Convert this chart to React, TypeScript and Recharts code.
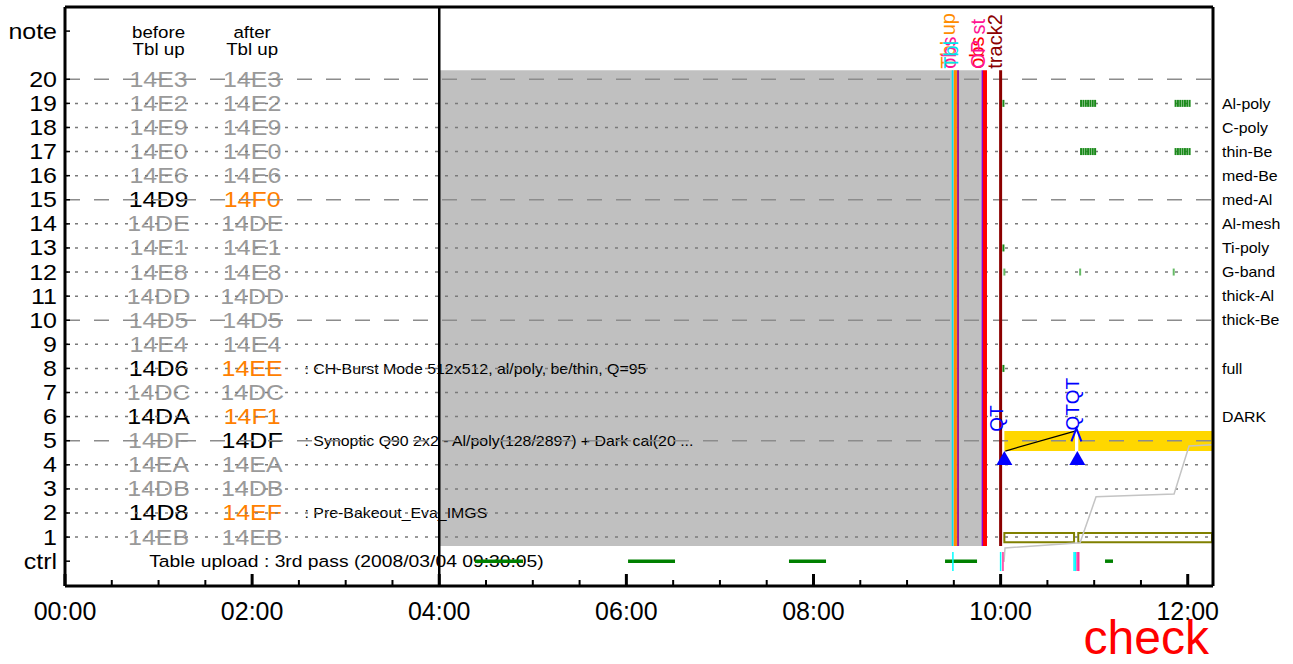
import React from 'react';
import { ComposedChart, XAxis, YAxis, ReferenceLine, ReferenceArea, Scatter, Line } from 'recharts';

const FONT = '"Liberation Sans", Arial, Helvetica, sans-serif';
const STRETCH = 1.135;

// ---------------- axes ----------------
const timeDomain = [0, 12.27];
const timeTicks = [0, 0.5, 1, 1.5, 2, 2.5, 3, 3.5, 4, 4.5, 5, 5.5, 6, 6.5, 7, 7.5, 8, 8.5, 9, 9.5, 10, 10.5, 11, 11.5, 12];
const timeMajorTicks = [0, 2, 4, 6, 8, 10, 12];
const timeTickLabels = ['00:00', '02:00', '04:00', '06:00', '08:00', '10:00', '12:00'];

const rowDomain = [-1.03, 23];
const rowTicks = [0, 1, 2, 3, 4, 5, 6, 7, 8, 9, 10, 11, 12, 13, 14, 15, 16, 17, 18, 19, 20, 22];
const rowTickLabels = ['ctrl', '1', '2', '3', '4', '5', '6', '7', '8', '9', '10', '11', '12', '13', '14', '15', '16', '17', '18', '19', '20', 'note'];

const filterRows = [19, 18, 17, 16, 15, 14, 13, 12, 11, 10, 8, 6];
const filterNames = ['Al-poly', 'C-poly', 'thin-Be', 'med-Be', 'med-Al', 'Al-mesh', 'Ti-poly', 'G-band', 'thick-Al', 'thick-Be', 'full', 'DARK'];

// ---------------- table of programs ----------------
const tableRows = [20, 19, 18, 17, 16, 15, 14, 13, 12, 11, 10, 9, 8, 7, 6, 5, 4, 3, 2, 1];
const beforeIds = ['14E3', '14E2', '14E9', '14E0', '14E6', '14D9', '14DE', '14E1', '14E8', '14DD', '14D5', '14E4', '14D6', '14DC', '14DA', '14DF', '14EA', '14DB', '14D8', '14EB'];
const afterIds = ['14E3', '14E2', '14E9', '14E0', '14E6', '14F0', '14DE', '14E1', '14E8', '14DD', '14D5', '14E4', '14EE', '14DC', '14F1', '14DF', '14EA', '14DB', '14EF', '14EB'];
const beforeStatus = ['old', 'old', 'old', 'old', 'old', 'cur', 'old', 'old', 'old', 'old', 'old', 'old', 'cur', 'old', 'cur', 'old', 'old', 'old', 'cur', 'old'];
const afterStatus = ['old', 'old', 'old', 'old', 'old', 'new', 'old', 'old', 'old', 'old', 'old', 'old', 'new', 'old', 'new', 'cur', 'old', 'old', 'new', 'old'];
const beforeColumnTime = 1.0;
const afterColumnTime = 2.0;

const headerTimes = [1.0, 1.0, 2.0, 2.0];
const headerRows = [21.96, 21.22, 21.96, 21.22];
const headerTexts = ['before', 'Tbl up', 'after', 'Tbl up'];

const noteRows = [8, 5, 2];
const noteTexts = [
  ': CH-Burst Mode 512x512, al/poly, be/thin, Q=95',
  ': Synoptic Q90 2x2 - Al/poly(128/2897) + Dark cal(20 ...',
  ': Pre-Bakeout_Eva_IMGS',
];
const noteTime = 2.56;

const ctrlTitle = 'Table upload : 3rd pass (2008/03/04 09:30:05)';
const ctrlTitleTime = 0.9;

// ---------------- timeline ----------------
const gridRows = [1, 2, 3, 4, 5, 6, 7, 8, 9, 10, 11, 12, 13, 14, 15, 16, 17, 18, 19, 20];
const majorGridRows = [5, 10, 15, 20];

const uploadTime = 4.0;
const observationStart = [4.0];
const observationEnd = [9.8];
const observationRowLow = 0.63;
const observationRowHigh = 20.37;

const eventTimes = [9.486, 9.517, 9.545, 9.805, 9.833, 10.0];
const eventKinds = ['tbl', 'tblup', 'obs', 'op', 'obsred', 'track2'];

const topLabelTimes = [9.51, 9.52, 9.54, 9.82, 9.835, 10.02];
const topLabelTexts = ['Tbl up', 'obs', 'Tbl', 'obs', 'OP st', 'track2'];
const topLabelKinds = ['tblup', 'obs', 'tbl', 'obsred', 'opst', 'track2'];

const ctrlSegStart = [4.382, 6.018, 7.738, 9.406, 11.116];
const ctrlSegEnd = [4.895, 6.52, 8.134, 9.748, 11.201];

const ctrlTickTimes = [9.49, 10.0, 10.025, 10.785, 10.8, 10.818, 10.835];
const ctrlTickKinds = ['cyan', 'cyan', 'pink', 'cyan', 'cyan', 'pink', 'pink'];

const exposureTimes = [
  10.03, 10.86, 10.885, 10.91, 10.935, 10.96, 10.985, 11.01, 11.87, 11.895, 11.92, 11.945, 11.97, 11.995, 12.02,
  10.86, 10.885, 10.91, 10.935, 10.96, 10.985, 11.01, 11.87, 11.895, 11.92, 11.945, 11.97, 11.995, 12.02,
  10.03, 10.04, 10.85, 11.85, 10.03,
];
const exposureRows = [
  19, 19, 19, 19, 19, 19, 19, 19, 19, 19, 19, 19, 19, 19, 19,
  17, 17, 17, 17, 17, 17, 17, 17, 17, 17, 17, 17, 17, 17,
  13, 12, 12, 12, 8,
];
const exposureKinds = [
  'dark', 'dark', 'dark', 'dark', 'dark', 'dark', 'dark', 'dark', 'dark', 'dark', 'dark', 'dark', 'dark', 'dark', 'dark',
  'dark', 'dark', 'dark', 'dark', 'dark', 'dark', 'dark', 'dark', 'dark', 'dark', 'dark', 'dark', 'dark', 'dark',
  'dark', 'light', 'light', 'light', 'dark',
];

const bandStart = [10.04, 10.83];
const bandEnd = [10.795, 12.27];
const bandRowLow = 4.57;
const bandRowHigh = 5.4;

const boxStart = [10.04, 10.83];
const boxEnd = [10.785, 12.26];
const boxRowLow = 0.79;
const boxRowHigh = 1.17;

const qtTriTimes = [10.04, 10.82];
const qtTriRows = [4.28, 4.28];
const qtOpenTimes = [10.81];
const qtOpenRows = [5.22];
const qtLabelTimes = [10.026, 10.838];
const qtLabelRows = [5.37, 5.42];
const qtLabelTexts = ['QT', 'QTQT'];

const connectorTimes = [10.05, 10.795];
const connectorRows = [4.57, 5.4];

const cumulativeTimes = [10.036, 10.047, 10.849, 11.02, 11.854, 12.014, 12.27];
const cumulativeRows = [-0.03, 0.55, 0.76, 2.67, 2.79, 4.78, 4.83];

// ---------------- derived data tables ----------------
const tableBefore = tableRows.map((r, i) => ({ t: beforeColumnTime, row: r, text: beforeIds[i], status: beforeStatus[i] }));
const tableAfter = tableRows.map((r, i) => ({ t: afterColumnTime, row: r, text: afterIds[i], status: afterStatus[i] }));
const headers = headerTexts.map((s, i) => ({ t: headerTimes[i], row: headerRows[i], text: s, status: 'cur' }));
const notes = noteTexts.map((s, i) => ({ t: noteTime, row: noteRows[i], text: s, status: 'cur' }));
const ctrlTitleData = [{ t: ctrlTitleTime, row: 0, text: ctrlTitle, status: 'cur' }];
const topLabels = topLabelTexts.map((s, i) => ({ t: topLabelTimes[i], row: observationRowHigh + 0.07, text: s, kind: topLabelKinds[i] }));
const exposures = exposureTimes.map((t, i) => ({ t, row: exposureRows[i], kind: exposureKinds[i] }));
const qtTriangles = qtTriTimes.map((t, i) => ({ t, row: qtTriRows[i] }));
const qtOpen = qtOpenTimes.map((t, i) => ({ t, row: qtOpenRows[i] }));
const qtLabels = qtLabelTexts.map((s, i) => ({ t: qtLabelTimes[i], row: qtLabelRows[i], text: s, kind: 'qt' }));
const connector = connectorTimes.map((t, i) => ({ t, row: connectorRows[i] }));
const cumulative = cumulativeTimes.map((t, i) => ({ t, row: cumulativeRows[i] }));

// ---------------- styles ----------------
const statusColor: Record<string, string> = { old: '#9a9a9a', cur: '#000000', new: '#ff8000' };
const eventStyle: Record<string, { color: string; width: number }> = {
  tbl: { color: '#00e5ee', width: 1.5 },
  tblup: { color: '#ff8c00', width: 3 },
  obs: { color: '#9b1b9b', width: 2 },
  op: { color: '#9400d3', width: 1.5 },
  obsred: { color: '#ff0000', width: 4 },
  track2: { color: '#8b0000', width: 3 },
};
const labelColor: Record<string, string> = {
  tbl: '#00e5ee', tblup: '#ff8c00', obs: '#ff1493', obsred: '#ff0000', opst: '#ff1493', track2: '#8b0000', qt: '#0000ff',
};
const ctrlTickColor: Record<string, string> = { cyan: '#00ffff', pink: '#ff3399' };
const exposureColor: Record<string, string> = { dark: '#1a8a1a', light: '#66bb66' };

// ---------------- custom renderers ----------------
const StretchText = ({ x, y, size, anchor, fill, children }: any) => (
  <text transform={`translate(${x} ${y}) scale(${STRETCH} 1)`} x={0} y={0} textAnchor={anchor} dominantBaseline="central"
    fontSize={size} fontFamily={FONT} fill={fill}>
    {children}
  </text>
);

const makeText = (fontSize: number, anchor: 'start' | 'middle' | 'end') => (p: any) => {
  const d = p.payload || p;
  return <StretchText x={p.cx} y={p.cy} size={fontSize} anchor={anchor} fill={statusColor[d.status]}>{d.text}</StretchText>;
};

const makeRotated = (fontSize: number) => (p: any) => {
  const d = p.payload || p;
  return (
    <text x={p.cx} y={p.cy} transform={`rotate(-90 ${p.cx} ${p.cy})`} textAnchor="start" fontSize={fontSize} fontFamily={FONT} fill={labelColor[d.kind]}>
      {d.text}
    </text>
  );
};

const ExposureShape = (p: any) => {
  const d = p.payload || p;
  return <line x1={p.cx} x2={p.cx} y1={p.cy - 3.5} y2={p.cy + 3.5} stroke={exposureColor[d.kind]} strokeWidth={2} />;
};

const TriangleShape = (p: any) => (
  <polygon points={`${p.cx},${p.cy - 7} ${p.cx - 8},${p.cy + 7} ${p.cx + 8},${p.cy + 7}`} fill="#0000ff" stroke="none" />
);
const OpenTriangleShape = (p: any) => (
  <polyline points={`${p.cx - 5},${p.cy + 6} ${p.cx},${p.cy - 7} ${p.cx + 5},${p.cy + 6}`} fill="none" stroke="#0000ff" strokeWidth={2} />
);

const BottomTick = (p: any) => {
  const v = p.payload.value;
  const idx = timeMajorTicks.indexOf(v);
  const major = idx >= 0;
  return (
    <g>
      <line x1={p.x} x2={p.x} y1={p.y} y2={p.y - (major ? 12 : 6)} stroke="#000" strokeWidth={major ? 3 : 2} />
      {major && (
        <text x={p.x} y={p.y + 25} textAnchor="middle" dominantBaseline="central" fontSize={25} fontFamily={FONT} fill="#000">
          {timeTickLabels[idx]}
        </text>
      )}
    </g>
  );
};

const TopTick = (p: any) => {
  const v = p.payload.value;
  const major = timeMajorTicks.indexOf(v) >= 0;
  return <line x1={p.x} x2={p.x} y1={p.y} y2={p.y + (major ? 12 : 6)} stroke="#000" strokeWidth={major ? 3 : 2} />;
};

const LeftTick = (p: any) => {
  const v = p.payload.value;
  const idx = rowTicks.indexOf(v);
  return (
    <g>
      <line x1={p.x} x2={p.x + 5} y1={p.y} y2={p.y} stroke="#000" strokeWidth={1.5} />
      <StretchText x={p.x - 8} y={p.y} size={22} anchor="end" fill="#000">{rowTickLabels[idx]}</StretchText>
    </g>
  );
};

const RightTick = (p: any) => {
  const v = p.payload.value;
  const idx = filterRows.indexOf(v);
  return <StretchText x={p.x + 9} y={p.y} size={14} anchor="start" fill="#000">{filterNames[idx]}</StretchText>;
};

export default function App() {
  const axisLine = { stroke: '#000', strokeWidth: 3 };
  return (
    <div style={{ position: 'absolute', left: 0, top: 0, width: 1293, height: 664, background: '#fff' }}>
      <ComposedChart width={1293} height={664} margin={{ top: 6, right: 0, bottom: 0, left: 0 }} style={{ fontFamily: FONT }}>
        <XAxis xAxisId={0} dataKey="t" type="number" domain={timeDomain} allowDataOverflow ticks={timeTicks} interval={0}
          tickLine={false} tickSize={0} tickMargin={0} height={78} axisLine={axisLine} tick={BottomTick} />
        <XAxis xAxisId="top" orientation="top" type="number" domain={timeDomain} allowDataOverflow ticks={timeTicks} interval={0}
          tickLine={false} tickSize={0} tickMargin={0} height={1} axisLine={axisLine} tick={TopTick} />
        <YAxis yAxisId={0} dataKey="row" type="number" domain={rowDomain} allowDataOverflow ticks={rowTicks} interval={0}
          width={65} tickLine={false} tickSize={0} tickMargin={0} axisLine={axisLine} tick={LeftTick} />
        <YAxis yAxisId="r" orientation="right" type="number" domain={rowDomain} allowDataOverflow ticks={filterRows} interval={0}
          width={80} tickLine={false} tickSize={0} tickMargin={0} axisLine={axisLine} tick={RightTick} />

        {observationStart.map((s, i) => (
          <ReferenceArea key={`obs${i}`} x1={s} x2={observationEnd[i]} y1={observationRowLow} y2={observationRowHigh}
            fill="#c0c0c0" fillOpacity={1} stroke="none" zIndex={100} />
        ))}
        {bandStart.map((s, i) => (
          <ReferenceArea key={`band${i}`} x1={s} x2={bandEnd[i]} y1={bandRowLow} y2={bandRowHigh}
            fill="#ffd700" fillOpacity={1} stroke="none" zIndex={110} />
        ))}
        {boxStart.map((s, i) => (
          <ReferenceArea key={`box${i}`} x1={s} x2={boxEnd[i]} y1={boxRowLow} y2={boxRowHigh}
            fill="none" fillOpacity={0} stroke="#808000" strokeWidth={2} zIndex={110} />
        ))}

        <Scatter data={tableBefore} shape={makeText(22, 'middle')} isAnimationActive={false} zIndex={300} />
        <Scatter data={tableAfter} shape={makeText(22, 'middle')} isAnimationActive={false} zIndex={300} />
        <Scatter data={headers} shape={makeText(16.5, 'middle')} isAnimationActive={false} zIndex={300} />
        <Scatter data={notes} shape={makeText(14, 'start')} isAnimationActive={false} zIndex={300} />
        <Scatter data={ctrlTitleData} shape={makeText(17, 'start')} isAnimationActive={false} zIndex={300} />

        {gridRows.map((r) => {
          const major = majorGridRows.indexOf(r) >= 0;
          return (
            <ReferenceLine key={`g${r}`} y={r} stroke={major ? '#8c8c8c' : '#7a7a7a'} strokeWidth={1.5}
              strokeDasharray={major ? '15 14' : '3 7'} zIndex={350} />
          );
        })}

        <ReferenceLine x={uploadTime} stroke="#000" strokeWidth={2.5} zIndex={360} />

        <Line data={cumulative} dataKey="row" type="linear" stroke="#c4c4c4" strokeWidth={1.5} dot={false} activeDot={false}
          isAnimationActive={false} zIndex={400} />
        <Line data={connector} dataKey="row" type="linear" stroke="#000" strokeWidth={1.2} dot={false} activeDot={false}
          isAnimationActive={false} zIndex={400} />

        {eventTimes.map((t, i) => (
          <ReferenceLine key={`e${i}`} segment={[{ x: t, y: observationRowLow }, { x: t, y: observationRowHigh }]}
            stroke={eventStyle[eventKinds[i]].color} strokeWidth={eventStyle[eventKinds[i]].width} zIndex={450} />
        ))}

        {ctrlSegStart.map((s, i) => (
          <ReferenceLine key={`c${i}`} segment={[{ x: s, y: 0 }, { x: ctrlSegEnd[i], y: 0 }]} stroke="#008000" strokeWidth={3.5} zIndex={460} />
        ))}
        {ctrlTickTimes.map((t, i) => (
          <ReferenceLine key={`ct${i}`} segment={[{ x: t, y: -0.41 }, { x: t, y: 0.38 }]} stroke={ctrlTickColor[ctrlTickKinds[i]]}
            strokeWidth={1.5} zIndex={470} />
        ))}

        <Scatter data={exposures} shape={ExposureShape} isAnimationActive={false} zIndex={600} />
        <Scatter data={qtTriangles} shape={TriangleShape} isAnimationActive={false} zIndex={610} />
        <Scatter data={qtOpen} shape={OpenTriangleShape} isAnimationActive={false} zIndex={610} />
        <Scatter data={qtLabels} shape={makeRotated(19)} isAnimationActive={false} zIndex={620} />
        <Scatter data={topLabels} shape={makeRotated(20)} isAnimationActive={false} zIndex={620} />
      </ComposedChart>
      <div style={{ position: 'absolute', left: 1008, top: 610, width: 201, textAlign: 'right', color: '#ff0000', fontSize: 48, lineHeight: '56px', fontFamily: FONT }}>
        check
      </div>
    </div>
  );
}
